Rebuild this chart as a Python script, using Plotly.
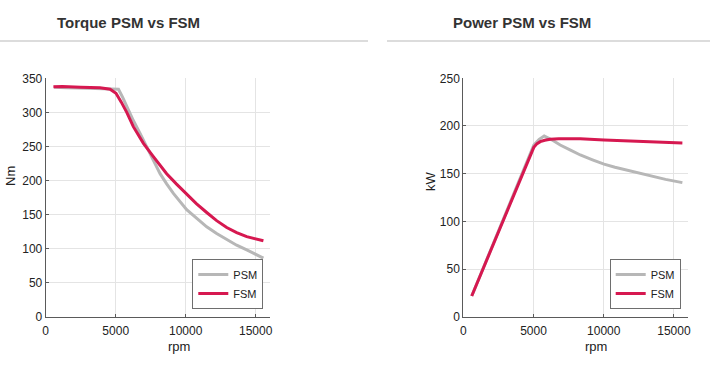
import plotly.graph_objects as go

# Torque data (rpm, Nm)
torque_psm_rpm = [600, 1500, 3000, 4500, 5200, 5500, 5790, 6260, 6740, 7210, 7690, 8170, 8640, 9120, 10070, 10790, 11500, 12210, 12930, 13640, 14360, 14950, 15550]
torque_psm_nm = [337, 336, 335.5, 335, 334, 322, 308, 288, 269, 250, 229, 210, 195, 181, 157, 144, 132, 122, 113, 105, 98, 92, 86]
torque_fsm_rpm = [550, 1200, 2500, 3880, 4600, 5020, 5400, 5790, 6260, 6980, 7690, 8640, 9330, 10020, 10760, 11500, 12210, 12930, 13640, 14360, 14950, 15550]
torque_fsm_nm = [337.5, 338, 337, 336, 334, 328, 315, 300, 279, 254.5, 235, 210, 195, 181, 166, 153, 141, 131, 123.5, 117.5, 114, 111.5]

# Power data (rpm, kW)
power_psm_rpm = [600, 5020, 5400, 5760, 6300, 6900, 7600, 8330, 9200, 10020, 10800, 11670, 12500, 13330, 14400, 15600]
power_psm_kw = [21.7, 180, 186, 189.5, 185.5, 180, 175, 169.6, 164.5, 160, 156.8, 153.8, 150.6, 147.6, 144, 140.6]
power_fsm_rpm = [600, 5020, 5250, 5480, 5800, 6190, 6800, 7380, 8330, 10020, 11670, 14050, 15600]
power_fsm_kw = [21.7, 177.6, 181.5, 183.6, 185, 186, 186.7, 187, 186.7, 185.3, 184.3, 183.6, 182.2]

x_ticks = [0, 5000, 10000, 15000]
x_tick_labels = ["0", "5000", "10000", "15000"]
torque_ticks = [0, 50, 100, 150, 200, 250, 300, 350]
power_ticks = [0, 50, 100, 150, 200, 250]

GRAY = "rgb(183,183,183)"
RED = "rgb(214,24,80)"
W, H = 710, 367

fig = go.Figure()
fig.add_trace(go.Scatter(x=torque_psm_rpm, y=torque_psm_nm, mode="lines", name="PSM",
                         line=dict(color=GRAY, width=3),
                         xaxis="x", yaxis="y", legend="legend"))
fig.add_trace(go.Scatter(x=torque_fsm_rpm, y=torque_fsm_nm, mode="lines", name="FSM",
                         line=dict(color=RED, width=3),
                         xaxis="x", yaxis="y", legend="legend"))
fig.add_trace(go.Scatter(x=power_psm_rpm, y=power_psm_kw, mode="lines", name="PSM",
                         line=dict(color=GRAY, width=3),
                         xaxis="x2", yaxis="y2", legend="legend2"))
fig.add_trace(go.Scatter(x=power_fsm_rpm, y=power_fsm_kw, mode="lines", name="FSM",
                         line=dict(color=RED, width=3),
                         xaxis="x2", yaxis="y2", legend="legend2"))

def px_x(v):
    return v / W

def px_y(v):
    return 1 - v / H

ydom = [px_y(316.7), px_y(78.3)]
axis_common = dict(showgrid=True, gridcolor="rgb(228,228,228)", gridwidth=1,
                   showline=True, linecolor="rgb(90,90,90)", linewidth=1,
                   ticks="inside", ticklen=3, tickcolor="rgb(90,90,90)",
                   zeroline=False, tickfont=dict(size=12, color="#222"),
                   automargin=False)

fig.update_layout(
    width=W, height=H,
    margin=dict(l=0, r=0, t=0, b=0),
    paper_bgcolor="white", plot_bgcolor="white",
    font=dict(family="Liberation Sans, Arial, sans-serif", color="#222"),
    xaxis=dict(domain=[px_x(45.7), px_x(269.7)], range=[0, 16000], tickvals=x_ticks,
               ticktext=x_tick_labels, anchor="y", ticklabelstandoff=3, **axis_common),
    yaxis=dict(domain=ydom, range=[0, 350], tickvals=torque_ticks,
               anchor="x", **axis_common),
    xaxis2=dict(domain=[px_x(463.3), px_x(688)], range=[0, 16000], tickvals=x_ticks,
                ticktext=x_tick_labels, anchor="y2", ticklabelstandoff=3, **axis_common),
    yaxis2=dict(domain=ydom, range=[0, 250], tickvals=power_ticks,
                anchor="x2", **axis_common),
    legend=dict(x=px_x(263.3), y=px_y(309), xanchor="right", yanchor="bottom",
                bgcolor="white", bordercolor="rgb(110,110,110)", borderwidth=1,
                font=dict(size=11, color="#222"), tracegroupgap=0,
                itemwidth=30),
    legend2=dict(x=px_x(680.7), y=px_y(309), xanchor="right", yanchor="bottom",
                 bgcolor="white", bordercolor="rgb(110,110,110)", borderwidth=1,
                 font=dict(size=11, color="#222"), tracegroupgap=0,
                 itemwidth=30),
    showlegend=True,
)

# panel titles
fig.add_annotation(text="<b>Torque PSM vs FSM</b>", x=px_x(128), y=px_y(22),
                   xref="paper", yref="paper", showarrow=False,
                   font=dict(size=15, color="#333"), xanchor="center", yanchor="middle")
fig.add_annotation(text="<b>Power PSM vs FSM</b>", x=px_x(522), y=px_y(22),
                   xref="paper", yref="paper", showarrow=False,
                   font=dict(size=15, color="#333"), xanchor="center", yanchor="middle")

# axis titles
axis_title_font = dict(size=13, color="#222")
fig.add_annotation(text="rpm", x=px_x(178.5), y=px_y(346), xref="paper", yref="paper",
                   showarrow=False, font=axis_title_font, xanchor="center", yanchor="middle")
fig.add_annotation(text="rpm", x=px_x(596), y=px_y(346), xref="paper", yref="paper",
                   showarrow=False, font=axis_title_font, xanchor="center", yanchor="middle")
fig.add_annotation(text="Nm", x=px_x(10), y=px_y(176), xref="paper", yref="paper",
                   showarrow=False, font=axis_title_font, textangle=-90,
                   xanchor="center", yanchor="middle")
fig.add_annotation(text="kW", x=px_x(430), y=px_y(181), xref="paper", yref="paper",
                   showarrow=False, font=axis_title_font, textangle=-90,
                   xanchor="center", yanchor="middle")

# header divider lines
fig.add_shape(type="line", xref="paper", yref="paper", x0=0, x1=px_x(368),
              y0=px_y(41), y1=px_y(41), line=dict(color="rgb(220,220,220)", width=2))
fig.add_shape(type="line", xref="paper", yref="paper", x0=px_x(387), x1=1,
              y0=px_y(41), y1=px_y(41), line=dict(color="rgb(220,220,220)", width=2))

fig.write_html("out.html", config={"displayModeBar": False},
               post_script="document.body.style.margin='0';document.body.style.overflow='hidden';")
